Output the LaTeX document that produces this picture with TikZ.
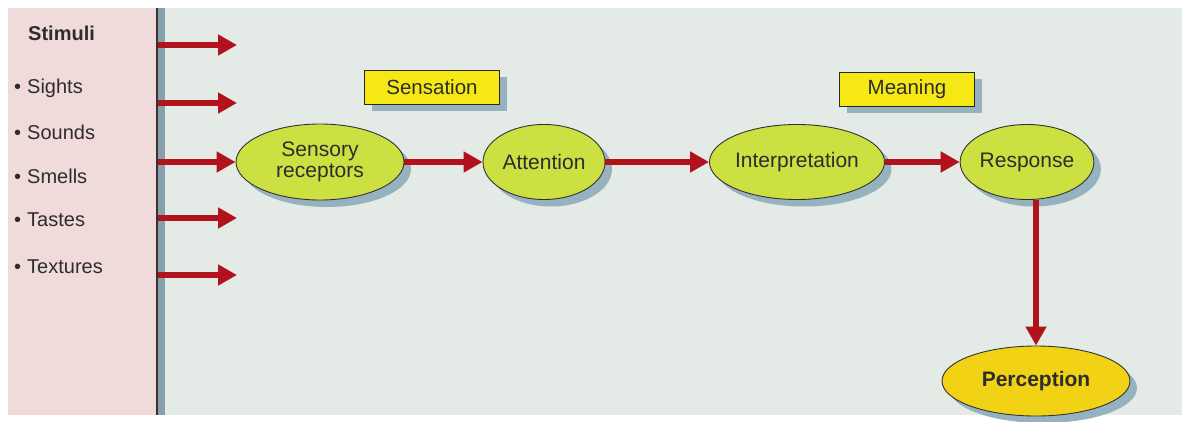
\documentclass[tikz,border=0pt]{standalone}
\usepackage{fontspec}
\setmainfont{Liberation Sans}
\usetikzlibrary{shapes.geometric,arrows.meta,shadows}
\definecolor{bgc}{RGB}{228,234,229}
\definecolor{pinkc}{RGB}{240,218,218}
\definecolor{redc}{RGB}{178,18,28}
\definecolor{greenc}{RGB}{204,224,66}
\definecolor{goldc}{RGB}{242,210,20}
\definecolor{boxy}{RGB}{246,232,20}
\definecolor{shadc}{RGB}{150,178,190}
\definecolor{txtc}{RGB}{45,45,45}
\tikzset{
  oval/.style={ellipse, draw=black!80, line width=0.9pt, fill=greenc, inner sep=0pt,
    text=txtc, align=center, font=\fontsize{21}{22}\selectfont,
    drop shadow={shadow xshift=7pt, shadow yshift=-7pt, fill=shadc, opacity=1}},
  label box/.style={draw=black!85, line width=0.9pt, fill=boxy, text=txtc,
    minimum width=135pt, minimum height=34pt, inner sep=0pt, font=\fontsize{20.5}{21}\selectfont,
    drop shadow={shadow xshift=7pt, shadow yshift=-7pt, fill=shadc, opacity=1}},
  flow/.style={draw=redc, line width=6.5pt, -{Triangle[length=19pt,width=20pt]}},
  item/.style={anchor=west, text=txtc, font=\fontsize{20}{21}\selectfont, inner sep=0pt}
}
\begin{document}
\begin{tikzpicture}[x=1pt,y=-1pt]
\useasboundingbox (0,0) rectangle (1190,421);
\fill[white] (0,0) rectangle (1190,421);
\fill[bgc] (8,8) rectangle (1182,415);
\fill[pinkc] (8,8) rectangle (156,415);
\fill[shadc!90!black] (157,8) rectangle (165,415);
\draw[black!80, line width=1.2pt] (157,8) -- (157,415);
% stimuli list
\node[item, font=\fontsize{20}{21}\selectfont\bfseries] (stim) at (28,33) {Stimuli};
\node[item] (s1) at (14,88) {\textbullet\hspace{6pt}Sights};
\node[item] (s2) at (14,132) {\textbullet\hspace{6pt}Sounds};
\node[item] (s3) at (14,176) {\textbullet\hspace{6pt}Smells};
\node[item] (s4) at (14,220) {\textbullet\hspace{6pt}Tastes};
\node[item] (s5) at (14,267) {\textbullet\hspace{6pt}Textures};
% stimulus arrows
\coordinate (a1s) at (158,45);  \coordinate (a1e) at (237,45);
\coordinate (a2s) at (158,103); \coordinate (a2e) at (237,103);
\coordinate (a3s) at (158,162);
\coordinate (a4s) at (158,218); \coordinate (a4e) at (237,218);
\coordinate (a5s) at (158,275); \coordinate (a5e) at (237,275);
\draw[flow] (a1s) -- (a1e);
\draw[flow] (a2s) -- (a2e);
\draw[flow] (a4s) -- (a4e);
\draw[flow] (a5s) -- (a5e);
% label boxes
\node[label box] (sens) at (432,87) {Sensation};
\node[label box] (mean) at (907,89) {Meaning};
% process ovals
\node[oval, minimum width=168pt, minimum height=76pt] (rec) at (320,162) {Sensory\\[-1pt]receptors};
\node[oval, minimum width=122pt, minimum height=75pt] (att) at (544,162) {Attention};
\node[oval, minimum width=166pt, minimum height=75pt] (int) at (797,162) {Interpretation};
\node[oval, minimum width=132pt, minimum height=75pt] (resp) at (1027,162) {Response};
\node[oval, fill=goldc, minimum width=188pt, minimum height=70pt, font=\fontsize{21}{22}\selectfont\bfseries] (perc) at (1036,381) {Perception};
\draw[flow] (a3s) -- (rec.west);
\draw[flow] (rec.east) -- (att.west);
\draw[flow] (att.east) -- (int.west);
\draw[flow] (int.east) -- (resp.west);
\draw[flow] (resp.south -| perc.north) -- (perc.north);
\end{tikzpicture}
\end{document}
